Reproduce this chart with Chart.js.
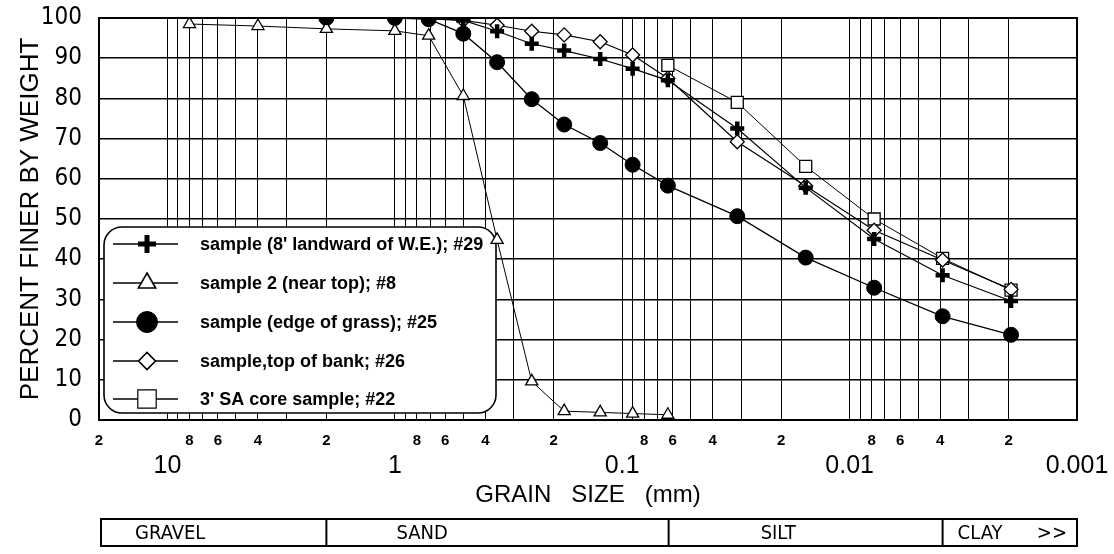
<!DOCTYPE html>
<html>
<head>
<meta charset="utf-8">
<script src="https://cdn.jsdelivr.net/npm/chart.js@4.4.1/dist/chart.umd.min.js"></script>
<style>
html,body{margin:0;padding:0;background:#fff;}
#wrap{width:1114px;height:554px;position:relative;}
canvas{display:block;}
</style>
</head>
<body>
<div id="wrap"><canvas id="c" width="1114" height="554"></canvas></div>
<script>
// ---------- data ----------
const grainSizes = [8, 4, 2, 1, 0.71, 0.5, 0.355, 0.25, 0.18, 0.125, 0.09, 0.063, 0.0312, 0.0156, 0.0078, 0.0039, 0.00195];
const seriesLabels = [
  "sample (8' landward of W.E.); #29",
  "sample 2 (near top); #8",
  "sample (edge of grass); #25",
  "sample,top of bank; #26",
  "3' SA core sample; #22"
];
const pct29 = [null, null, 100, 100, 100, 99.4, 96.7, 93.6, 91.9, 89.8, 87.4, 84.5, 72.5, 57.8, 45.0, 36.0, 29.6];
const pct8  = [98.5, 98.0, 97.3, 96.8, 95.6, 80.6, 44.8, 9.6, 2.2, 1.9, 1.6, 1.3, null, null, null, null, null];
const pct25 = [null, null, 100, 100, 99.7, 96.1, 89.0, 79.8, 73.5, 68.9, 63.5, 58.3, 50.7, 40.4, 32.9, 25.8, 21.2];
const pct26 = [null, null, null, 100, 99.8, 99.4, 98.2, 96.7, 95.8, 94.1, 90.8, 85.0, 69.2, 58.2, 47.2, 39.8, 32.5];
const pct22 = [null, null, null, null, null, null, null, null, null, null, null, 88.2, 79.0, 63.1, 50.0, 40.2, 32.3];

// axis ticks
const xGridValues = [20, 10, 9, 8, 7, 6, 5, 4, 3, 2,
  1, 0.9, 0.8, 0.7, 0.6, 0.5, 0.4, 0.3, 0.2,
  0.1, 0.09, 0.08, 0.07, 0.06, 0.05, 0.04, 0.03, 0.02,
  0.01, 0.009, 0.008, 0.007, 0.006, 0.005, 0.004, 0.003, 0.002, 0.001];
const xMinorLabelValues = [20, 8, 6, 4, 2, 0.8, 0.6, 0.4, 0.2, 0.08, 0.06, 0.04, 0.02, 0.008, 0.006, 0.004, 0.002];
const xMinorTickLabels  = ['2','8','6','4','2','8','6','4','2','8','6','4','2','8','6','4','2'];
const xMajorLabelValues = [10, 1, 0.1, 0.01, 0.001];
const xMajorTickLabels  = ['10', '1', '0.1', '0.01', '0.001'];
const yTickValues = [0, 10, 20, 30, 40, 50, 60, 70, 80, 90, 100];

// soil classes (boundaries in mm)
const classNames = ['GRAVEL', 'SAND', 'SILT', 'CLAY'];
const classBounds = [20, 2, 0.0625, 0.0039, 0.001];

// ---------- helpers ----------
const NARROW = "'Liberation Sans Narrow','Arial Narrow','DejaVu Sans Condensed','Roboto Condensed','Liberation Sans',Arial,sans-serif";
const SANS = "'Liberation Sans',Arial,Helvetica,sans-serif";
const same = (a, b) => Math.abs(Math.log10(a) - Math.log10(b)) < 1e-6;
const pts = arr => grainSizes.map((g, i) => ({x: g, y: arr[i]})).filter(p => p.y !== null);

const datasets = [
  {label: seriesLabels[0], data: pts(pct29), pointStyle: 'cross', pointRadius: 7, pointBorderWidth: 4.5,
   borderColor: '#000', backgroundColor: '#000', pointBorderColor: '#000', borderWidth: 1.2, legendRadius: 9, legendBorder: 5},
  {label: seriesLabels[1], data: pts(pct8), pointStyle: 'triangle', pointRadius: 7, pointBorderWidth: 1.3,
   borderColor: '#000', backgroundColor: '#fff', pointBackgroundColor: '#fff', pointBorderColor: '#000', borderWidth: 1, legendRadius: 10, legendBorder: 1.6},
  {label: seriesLabels[2], data: pts(pct25), pointStyle: 'circle', pointRadius: 7.5, pointBorderWidth: 1,
   borderColor: '#000', backgroundColor: '#000', pointBackgroundColor: '#000', pointBorderColor: '#000', borderWidth: 1.3, legendRadius: 10.5, legendBorder: 1},
  {label: seriesLabels[3], data: pts(pct26), pointStyle: 'rectRot', pointRadius: 7, pointBorderWidth: 1.3,
   borderColor: '#000', backgroundColor: '#fff', pointBackgroundColor: '#fff', pointBorderColor: '#000', borderWidth: 1.2, legendRadius: 8.5, legendBorder: 1.6},
  {label: seriesLabels[4], data: pts(pct22), pointStyle: 'rect', pointRadius: 8.5, pointBorderWidth: 1.3,
   borderColor: '#000', backgroundColor: '#fff', pointBackgroundColor: '#fff', pointBorderColor: '#000', borderWidth: 1, legendRadius: 13, legendBorder: 1.2}
];
datasets.forEach(d => { d.fill = false; d.tension = 0; d.pointHoverRadius = d.pointRadius; });

// ---------- plugins ----------
const boxLegend = {
  id: 'boxLegend',
  beforeDatasetsDraw(chart) {
    const ctx = chart.ctx;
    const L = 104, T = 227, R = 496, B = 413, rad = 18;
    ctx.save();
    ctx.beginPath();
    ctx.roundRect(L, T, R - L, B - T, rad);
    ctx.fillStyle = '#fff';
    ctx.fill();
    ctx.lineWidth = 1.6;
    ctx.strokeStyle = '#000';
    ctx.stroke();
    const rowY = [244, 283, 322, 361, 399];
    chart.data.datasets.forEach((ds, i) => {
      const y = rowY[i];
      ctx.beginPath();
      ctx.lineWidth = ds.borderWidth + 0.3;
      ctx.strokeStyle = '#000';
      ctx.moveTo(113, y); ctx.lineTo(178, y);
      ctx.stroke();
      ctx.fillStyle = ds.pointBackgroundColor || ds.backgroundColor;
      ctx.strokeStyle = '#000';
      ctx.lineWidth = ds.legendBorder;
      Chart.helpers.drawPoint(ctx, {pointStyle: ds.pointStyle, rotation: 0, radius: ds.legendRadius, borderWidth: ds.legendBorder}, 147, y);
      ctx.fillStyle = '#000';
      ctx.font = 'bold 18px ' + SANS;
      ctx.textAlign = 'left';
      ctx.textBaseline = 'middle';
      ctx.fillText(ds.label, 200, y + 1);
    });
    ctx.restore();
  },
  afterDraw(chart) {
    const ctx = chart.ctx;
    const a = chart.chartArea;
    ctx.save();
    // plot frame
    ctx.strokeStyle = '#000';
    ctx.lineWidth = 2;
    ctx.strokeRect(a.left, a.top, a.right - a.left, a.bottom - a.top);
    // class table
    const xs = chart.scales.x;
    const tTop = 519, tBot = 546;
    const px = classBounds.map(v => xs.getPixelForValue(v));
    ctx.lineWidth = 2;
    ctx.strokeRect(px[0] + 2, tTop, px[px.length - 1] - px[0] - 2, tBot - tTop);
    ctx.beginPath();
    for (let i = 1; i < px.length - 1; i++) { ctx.moveTo(px[i], tTop); ctx.lineTo(px[i], tBot); }
    ctx.stroke();
    ctx.fillStyle = '#000';
    ctx.font = '20px ' + NARROW;
    ctx.textBaseline = 'middle';
    ctx.textAlign = 'left';
    const offs = [36, 70, 92, 15];
    classNames.forEach((n, i) => ctx.fillText(n, px[i] + offs[i], (tTop + tBot) / 2 + 1));
    ctx.textAlign = 'right';
    ctx.fillText('>>', px[px.length - 1] - 10, (tTop + tBot) / 2 + 1);
    ctx.restore();
  }
};

// ---------- chart ----------
new Chart(document.getElementById('c'), {
  type: 'line',
  data: {datasets},
  options: {
    responsive: false,
    animation: false,
    devicePixelRatio: 1,
    layout: {padding: {left: 0, right: 37, top: 18, bottom: 44}},
    plugins: {legend: {display: false}, tooltip: {enabled: false}},
    elements: {line: {borderColor: '#000'}},
    scales: {
      x: {
        type: 'logarithmic', position: 'bottom', reverse: true, min: 0.001, max: 20, weight: 0,
        afterBuildTicks: s => { s.ticks = xGridValues.map(v => ({value: v})); },
        afterFit: s => { s.height = 30; },
        grid: {color: '#000', lineWidth: 1, drawTicks: false},
        border: {display: true, color: '#000', width: 2},
        ticks: {
          autoSkip: false, maxRotation: 0, minRotation: 0, padding: 12, color: '#000',
          font: {family: SANS, size: 15, weight: 'bold'},
          callback: v => { const k = xMinorLabelValues.findIndex(m => same(m, v)); return k >= 0 ? xMinorTickLabels[k] : ''; }
        }
      },
      x2: {
        type: 'logarithmic', position: 'bottom', reverse: true, min: 0.001, max: 20, weight: 1,
        afterBuildTicks: s => { s.ticks = xMajorLabelValues.map(v => ({value: v})); },
        afterFit: s => { s.height = 60; },
        grid: {display: false, drawTicks: false},
        border: {display: false},
        ticks: {
          autoSkip: false, maxRotation: 0, minRotation: 0, padding: 1, color: '#000',
          font: {family: SANS, size: 25},
          callback: v => { const k = xMajorLabelValues.findIndex(m => same(m, v)); return k >= 0 ? xMajorTickLabels[k] : ''; }
        },
        title: {display: true, text: 'GRAIN   SIZE   (mm)', color: '#000', font: {family: SANS, size: 24}, padding: {top: 0, bottom: 0}}
      },
      y: {
        type: 'linear', position: 'left', min: 0, max: 100,
        afterBuildTicks: s => { s.ticks = yTickValues.map(v => ({value: v})); },
        afterFit: s => { s.width = 99; s.paddingTop = 0; s.paddingBottom = 0; },
        grid: {color: '#000', lineWidth: 1.6, drawTicks: false},
        border: {display: true, color: '#000', width: 2},
        ticks: {color: '#000', padding: 17, font: {family: NARROW, size: 24}},
        title: {display: true, text: 'PERCENT FINER BY WEIGHT', color: '#000', font: {family: SANS, size: 26}, padding: {top: 15, bottom: 0}}
      }
    }
  },
  plugins: [boxLegend]
});
</script>
</body>
</html>
